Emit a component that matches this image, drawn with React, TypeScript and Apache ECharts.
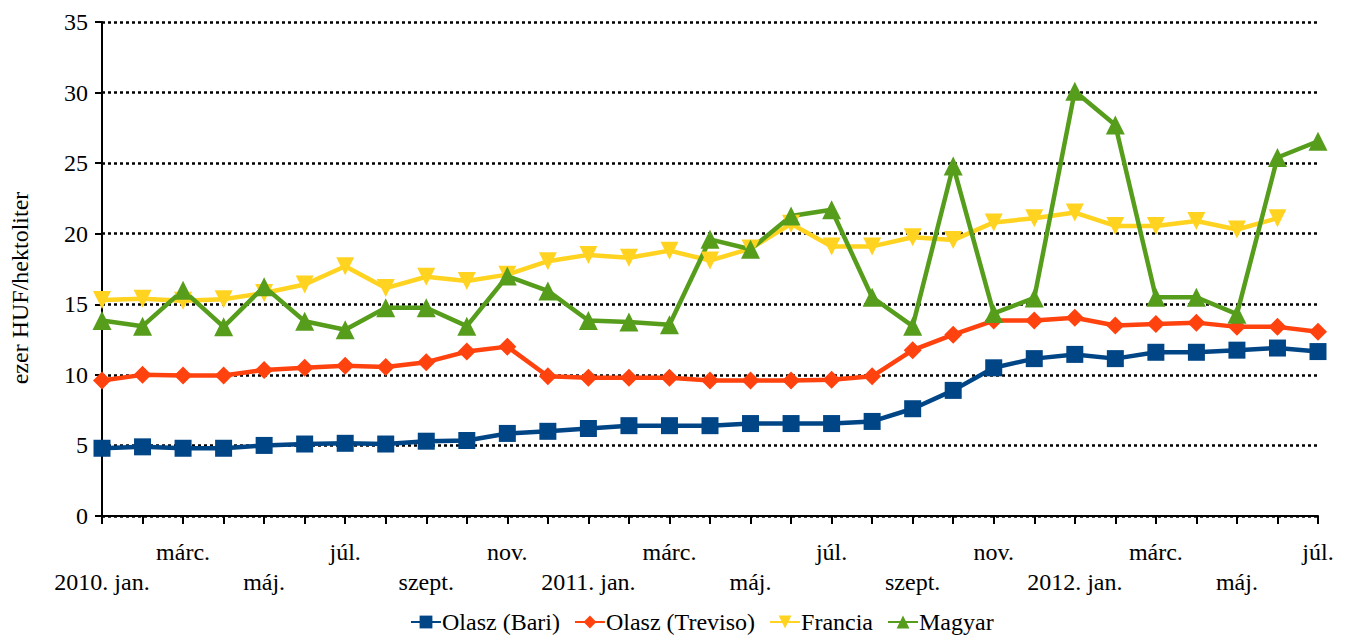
import React, { useEffect, useRef } from "react";
import * as echarts from "echarts";

const months: string[] = [
  "2010. jan.", "febr.", "márc.", "ápr.", "máj.", "jún.", "júl.", "aug.", "szept.", "okt.", "nov.", "dec.",
  "2011. jan.", "febr.", "márc.", "ápr.", "máj.", "jún.", "júl.", "aug.", "szept.", "okt.", "nov.", "dec.",
  "2012. jan.", "febr.", "márc.", "ápr.", "máj.", "jún.", "júl.",
];

const olaszBari: number[] = [
  4.8, 4.9, 4.8, 4.8, 5.0, 5.1, 5.15, 5.1, 5.3, 5.35, 5.85, 6.0, 6.2, 6.4, 6.4, 6.4,
  6.55, 6.55, 6.55, 6.7, 7.6, 8.9, 10.5, 11.15, 11.45, 11.15, 11.6, 11.6, 11.75, 11.9, 11.65,
];

const olaszTreviso: number[] = [
  9.6, 10.0, 9.95, 9.95, 10.35, 10.5, 10.65, 10.55, 10.9, 11.65, 12.0, 9.9, 9.8, 9.8, 9.8, 9.6,
  9.6, 9.6, 9.65, 9.9, 11.75, 12.85, 13.85, 13.85, 14.05, 13.5, 13.6, 13.7, 13.4, 13.4, 13.05,
];

const francia: (number | null)[] = [
  15.3, 15.4, 15.25, 15.35, 15.8, 16.4, 17.7, 16.15, 16.95, 16.65, 17.1, 18.05, 18.5, 18.3, 18.8, 18.1,
  18.95, 20.7, 19.1, 19.1, 19.75, 19.55, 20.8, 21.1, 21.5, 20.55, 20.55, 20.9, 20.3, 21.1, null,
];

const magyar: number[] = [
  13.85, 13.45, 16.0, 13.4, 16.25, 13.8, 13.2, 14.75, 14.75, 13.45, 17.0, 15.95, 13.85, 13.75, 13.55, 19.6,
  18.9, 21.25, 21.7, 15.5, 13.45, 24.8, 14.35, 15.45, 30.1, 27.7, 15.5, 15.5, 14.3, 25.4, 26.55,
];

const seriesNames: string[] = ["Olasz (Bari)", "Olasz (Treviso)", "Francia", "Magyar"];
const colors: string[] = ["#004586", "#ff420e", "#ffd320", "#579d1c"];

export default function App() {
  const ref = useRef<HTMLDivElement>(null);
  useEffect(() => {
    document.body.style.margin = "0";
    if (!ref.current) return;
    const chart = echarts.init(ref.current, undefined, { renderer: "svg" });
    const font = "Liberation Serif";
    const txt = { fontFamily: font, fontSize: 24, color: "#000" };
    const mk = (name: string, data: (number | null)[], color: string, symbol: string, size: number, rotate = 0) => ({
      name,
      type: "line",
      data,
      symbol,
      symbolSize: size,
      symbolRotate: rotate,
      showAllSymbol: true,
      lineStyle: { color, width: 4.5 },
      itemStyle: { color },
      emphasis: { disabled: true },
    });
    chart.setOption({
      animation: false,
      color: colors,
      textStyle: { fontFamily: font },
      grid: { left: 100, right: 27, top: 22, bottom: 127, containLabel: false },
      legend: {
        bottom: 4,
        left: 405,
        itemWidth: 30,
        itemHeight: 16,
        itemGap: 14,
        textStyle: { ...txt, padding: [0, 0, 0, -4] },
        data: seriesNames,
      },
      xAxis: {
        type: "category",
        data: months,
        boundaryGap: false,
        axisLine: { lineStyle: { color: "#000", width: 2 } },
        axisTick: { show: true, interval: 0, length: 8, lineStyle: { color: "#000", width: 2 } },
        axisLabel: {
          ...txt,
          interval: 0,
          margin: 21,
          lineHeight: 30,
          formatter: (v: string, i: number) => {
            if (i % 2 === 1) return "";
            return i % 4 === 0 ? "\n{t|" + v + "}" : "{t|" + v + "}";
          },
          rich: { t: { ...txt, lineHeight: 30 } },
        },
        splitLine: { show: false },
      },
      yAxis: {
        type: "value",
        min: 0,
        max: 35,
        interval: 5,
        name: "ezer HUF/hektoliter",
        nameLocation: "middle",
        nameRotate: 90,
        nameGap: 70,
        nameTextStyle: { ...txt, padding: [0, 38, 0, 0] },
        axisLine: { show: true, lineStyle: { color: "#000", width: 2 } },
        axisTick: { show: true, length: 7, lineStyle: { color: "#000", width: 2 } },
        axisLabel: { ...txt, margin: 14 },
        splitLine: { show: true, lineStyle: { color: "#000", width: 2.5, type: [3, 3] } },
      },
      series: [
        mk(seriesNames[0], olaszBari, colors[0], "rect", 17),
        mk(seriesNames[1], olaszTreviso, colors[1], "diamond", 18),
        mk(seriesNames[2], francia, colors[2], "triangle", 18, 180),
        mk(seriesNames[3], magyar, colors[3], "triangle", 19),
      ],
    });
    return () => chart.dispose();
  }, []);
  return <div ref={ref} style={{ width: 1345, height: 643, fontFamily: "Liberation Serif" }} />;
}
